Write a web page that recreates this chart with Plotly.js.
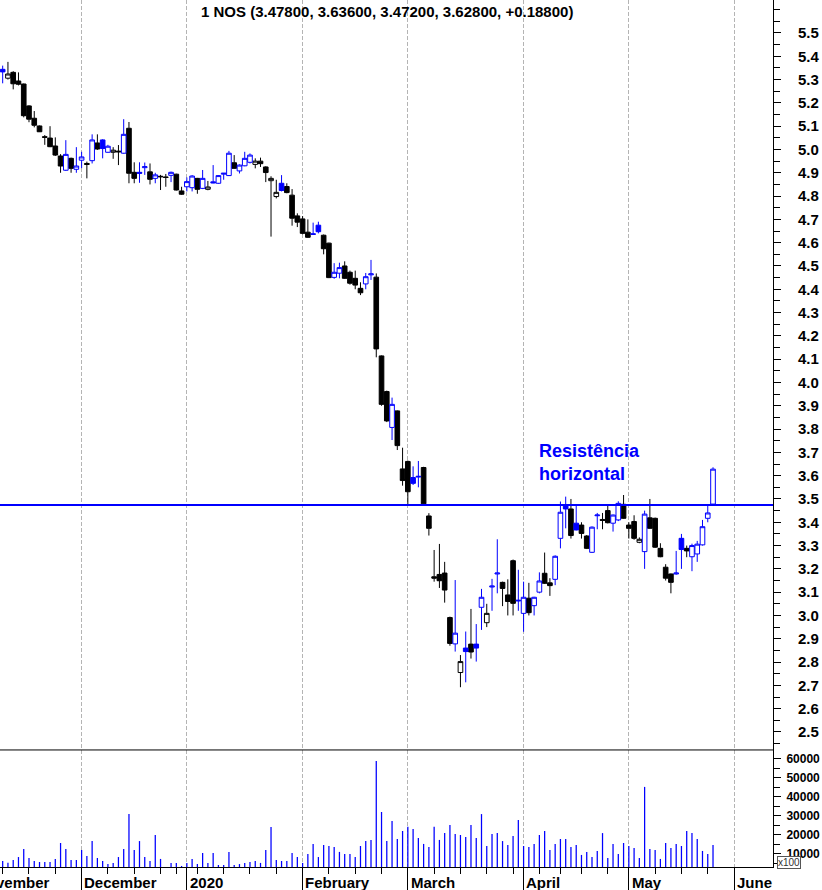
<!DOCTYPE html>
<html>
<head>
<meta charset="utf-8">
<script src="https://cdn.plot.ly/plotly-3.0.1.min.js"></script>
<style>
  html, body { margin: 0; padding: 0; background: #fff; }
  #chart { width: 822px; height: 890px; }
</style>
</head>
<body>
<div id="chart"></div>
<script>
// trading days shown (Euronext Lisbon)
const dates = [
  '2019-11-11','2019-11-12','2019-11-13','2019-11-14','2019-11-15','2019-11-18','2019-11-19','2019-11-20','2019-11-21','2019-11-22',
  '2019-11-25','2019-11-26','2019-11-27','2019-11-28','2019-11-29',
  '2019-12-02','2019-12-03','2019-12-04','2019-12-05','2019-12-06','2019-12-09','2019-12-10','2019-12-11','2019-12-12','2019-12-13',
  '2019-12-16','2019-12-17','2019-12-18','2019-12-19','2019-12-20','2019-12-23','2019-12-24','2019-12-27','2019-12-30','2019-12-31',
  '2020-01-02','2020-01-03','2020-01-06','2020-01-07','2020-01-08','2020-01-09','2020-01-10','2020-01-13','2020-01-14','2020-01-15',
  '2020-01-16','2020-01-17','2020-01-20','2020-01-21','2020-01-22','2020-01-23','2020-01-24','2020-01-27','2020-01-28','2020-01-29',
  '2020-01-30','2020-01-31',
  '2020-02-03','2020-02-04','2020-02-05','2020-02-06','2020-02-07','2020-02-10','2020-02-11','2020-02-12','2020-02-13','2020-02-14',
  '2020-02-17','2020-02-18','2020-02-19','2020-02-20','2020-02-21','2020-02-24','2020-02-25','2020-02-26','2020-02-27','2020-02-28',
  '2020-03-02','2020-03-03','2020-03-04','2020-03-05','2020-03-06','2020-03-09','2020-03-10','2020-03-11','2020-03-12','2020-03-13',
  '2020-03-16','2020-03-17','2020-03-18','2020-03-19','2020-03-20','2020-03-23','2020-03-24','2020-03-25','2020-03-26','2020-03-27',
  '2020-03-30','2020-03-31',
  '2020-04-01','2020-04-02','2020-04-03','2020-04-06','2020-04-07','2020-04-08','2020-04-09','2020-04-14','2020-04-15','2020-04-16',
  '2020-04-17','2020-04-20','2020-04-21','2020-04-22','2020-04-23','2020-04-24','2020-04-27','2020-04-28','2020-04-29','2020-04-30',
  '2020-05-04','2020-05-05','2020-05-06','2020-05-07','2020-05-08','2020-05-11','2020-05-12','2020-05-13','2020-05-14','2020-05-15',
  '2020-05-18','2020-05-19','2020-05-20','2020-05-21','2020-05-22','2020-05-25','2020-05-26'
];

const open = [
  5.344,5.306,5.331,5.294,5.281,5.187,5.134,5.101,5.055,5.049,
  5.015,4.972,4.911,4.962,4.915,4.954,4.940,4.952,5.028,5.041,
  4.988,4.988,4.993,4.984,5.091,4.902,4.902,4.922,4.904,4.876,
  4.885,4.882,4.889,4.894,4.822,4.840,4.836,4.876,4.833,4.829,
  4.861,4.855,4.894,4.888,4.943,4.908,4.930,4.945,4.936,4.950,
  4.925,4.866,4.798,4.855,4.841,4.804,4.715,4.702,4.645,4.638,
  4.675,4.632,4.598,4.451,4.469,4.500,4.473,4.447,4.404,4.423,
  4.462,4.452,4.114,3.961,3.807,3.878,3.629,3.661,3.592,3.594,
  3.635,3.427,3.166,3.176,3.182,2.991,2.878,2.755,2.860,2.877,
  2.877,3.035,2.969,3.122,3.178,3.142,3.088,3.235,3.062,3.009,
  3.074,3.042,3.100,3.181,3.140,3.155,3.331,3.474,3.457,3.396,
  3.388,3.341,3.271,3.428,3.412,3.450,3.396,3.410,3.477,3.388,
  3.403,3.314,3.274,3.419,3.417,3.288,3.207,3.178,3.178,3.331,
  3.288,3.252,3.264,3.303,3.417,3.478
];
const high = [
  5.360,5.376,5.336,5.331,5.283,5.190,5.165,5.103,5.062,5.100,
  5.052,4.980,5.040,4.965,5.010,4.990,4.948,5.065,5.065,5.044,
  5.020,5.010,5.019,5.130,5.118,4.945,4.945,4.944,4.940,4.900,
  4.891,4.895,4.905,4.896,4.840,4.880,4.890,4.878,4.912,4.865,
  4.933,4.890,4.899,4.994,4.976,4.936,4.990,4.983,4.962,4.965,
  4.928,4.885,4.870,4.890,4.855,4.830,4.726,4.714,4.700,4.686,
  4.690,4.635,4.600,4.512,4.514,4.520,4.480,4.480,4.430,4.470,
  4.526,4.468,4.116,3.965,3.935,3.880,3.720,3.665,3.640,3.663,
  3.638,3.439,3.281,3.307,3.230,2.995,3.152,2.830,2.931,3.028,
  2.963,3.114,3.050,3.157,3.327,3.145,3.155,3.240,3.196,3.145,
  3.140,3.080,3.185,3.270,3.160,3.258,3.489,3.510,3.500,3.470,
  3.400,3.345,3.382,3.440,3.440,3.470,3.433,3.490,3.517,3.400,
  3.430,3.335,3.450,3.500,3.420,3.310,3.220,3.180,3.277,3.350,
  3.300,3.308,3.320,3.410,3.470,3.636
];
const low = [
  5.284,5.300,5.258,5.275,5.138,5.117,5.095,5.075,5.020,5.010,
  4.972,4.900,4.908,4.900,4.900,4.920,4.876,4.940,4.998,4.962,
  4.986,4.960,4.933,4.982,4.855,4.855,4.857,4.891,4.850,4.855,
  4.826,4.840,4.860,4.824,4.805,4.820,4.820,4.810,4.830,4.825,
  4.855,4.853,4.870,4.886,4.917,4.897,4.928,4.940,4.919,4.925,
  4.860,4.626,4.790,4.820,4.812,4.673,4.667,4.636,4.621,4.634,
  4.640,4.550,4.448,4.445,4.447,4.445,4.420,4.400,4.375,4.400,
  4.440,4.108,3.900,3.830,3.753,3.710,3.557,3.474,3.560,3.550,
  3.476,3.343,3.145,3.118,3.055,2.870,2.845,2.692,2.713,2.815,
  2.802,2.938,2.950,3.020,3.095,3.040,3.000,3.000,3.020,2.930,
  3.000,3.000,3.095,3.135,3.084,3.130,3.288,3.374,3.330,3.365,
  3.330,3.285,3.268,3.370,3.370,3.395,3.360,3.405,3.415,3.330,
  3.325,3.310,3.200,3.372,3.290,3.250,3.150,3.095,3.175,3.200,
  3.250,3.190,3.230,3.300,3.400,3.472
];
const close = [
  5.333,5.324,5.282,5.280,5.145,5.130,5.104,5.076,5.052,5.012,
  4.976,4.929,4.979,4.919,4.929,4.968,4.936,5.041,5.002,5.004,
  5.014,4.997,4.990,5.065,4.898,4.876,4.898,4.926,4.872,4.891,
  4.883,4.880,4.902,4.826,4.808,4.862,4.886,4.829,4.876,4.839,
  4.857,4.888,4.898,4.984,4.919,4.933,4.962,4.976,4.950,4.939,
  4.901,4.876,4.816,4.824,4.815,4.705,4.688,4.640,4.623,4.636,
  4.647,4.574,4.450,4.473,4.493,4.447,4.426,4.418,4.385,4.454,
  4.466,4.144,3.906,3.835,3.906,3.729,3.579,3.531,3.567,3.597,
  3.479,3.374,3.160,3.149,3.109,2.880,2.924,2.802,2.845,2.843,
  2.860,3.078,3.009,3.126,3.182,3.116,3.060,3.052,3.065,3.078,
  3.012,3.078,3.148,3.138,3.128,3.254,3.443,3.457,3.343,3.367,
  3.352,3.288,3.379,3.431,3.408,3.398,3.431,3.481,3.417,3.374,
  3.331,3.327,3.435,3.374,3.293,3.252,3.160,3.142,3.182,3.283,
  3.277,3.300,3.306,3.381,3.440,3.628
];
const closeBefore = 5.31;   // close of the session before the first one shown

// volume, in hundreds of shares
const volume = [
  6300,5400,6800,8400,12600,7900,6300,5800,5800,5800,
  7400,15800,12600,6800,6800,12100,8900,16800,7900,6300,
  4700,5300,8400,12600,31000,12100,16800,8400,6300,20000,
  7400,2500,5300,5300,3700,5300,7400,4700,10500,5300,
  10500,4200,4200,11100,4200,4700,5300,5800,6300,5300,
  12100,24200,6800,6300,6300,10500,8400,5300,10000,15300,
  8400,14700,14200,13700,11100,10000,10000,8400,14200,16800,
  17400,58900,32100,16800,27400,17900,22100,24400,23200,18400,
  15300,13700,24400,17400,21000,25300,20500,20000,18900,25300,
  18400,31000,14200,20500,21000,16800,14700,19500,27900,14200,
  13700,15300,20000,22100,12100,15300,17900,17900,13700,14700,
  9500,11100,8400,11600,21000,7900,15300,10000,15800,14200,
  13200,7900,45300,12600,12100,7400,15800,13200,15300,14200,
  22100,21000,17900,11600,10000,14700
];

// month axis: session index of each month start and its label
const monthTickIdx = [-5.55, 15, 35, 57, 77, 99, 119, 139];
const monthLabels = ['November', 'December', '2020', 'February', 'March', 'April', 'May', 'June'];
const priceTicks = [2.5, 2.6, 2.7, 2.8, 2.9, 3.0, 3.1, 3.2, 3.3, 3.4, 3.5, 3.6, 3.7, 3.8, 3.9, 4.0,
                    4.1, 4.2, 4.3, 4.4, 4.5, 4.6, 4.7, 4.8, 4.9, 5.0, 5.1, 5.2, 5.3, 5.4, 5.5];
const volumeTicks = [10000, 20000, 30000, 40000, 50000, 60000];

const resistance = 3.474;
const titleText = '1 NOS (3.47800, 3.63600, 3.47200, 3.62800, +0.18800)';

const BLUE = '#0000ff';
const FONT = 'Liberation Sans, Arial, sans-serif';

const idx = dates.map((d, i) => i);
const isUp = close.map((c, i) => c > (i === 0 ? closeBefore : close[i - 1]));

// first session of each week gets a minor tick
const weekStart = idx.filter(i => {
  if (i === 0) return true;
  const a = new Date(dates[i - 1] + 'T00:00:00Z').getUTCDay();
  const b = new Date(dates[i] + 'T00:00:00Z').getUTCDay();
  return b < a;
});

function candles(keep, color) {
  const f = arr => arr.filter((_, i) => keep(i));
  return {
    type: 'candlestick',
    x: f(idx), open: f(open), high: f(high), low: f(low), close: f(close),
    xaxis: 'x', yaxis: 'y',
    whiskerwidth: 0,
    increasing: { line: { color: color, width: 1 }, fillcolor: '#ffffff' },
    decreasing: { line: { color: color, width: 1 }, fillcolor: color },
    showlegend: false, hoverinfo: 'skip'
  };
}

const traces = [
  candles(i => !isUp[i], '#000000'),
  candles(i => isUp[i], BLUE),
  {
    type: 'bar', x: idx, y: volume, xaxis: 'x', yaxis: 'y2',
    width: 0.24, marker: { color: BLUE, line: { width: 0 } },
    showlegend: false, hoverinfo: 'skip'
  }
];

// month labels sit just right of their tick; they are placed in paper units
// so the clipped "November" at the left edge is still drawn
const xMin = -0.51, xMax = 146.4;
const toPaper = v => (v - xMin) / (xMax - xMin);
const annotations = monthLabels.map((m, k) => ({
  text: '<b>' + m + '</b>', x: toPaper(monthTickIdx[k] + 0.15), xref: 'paper',
  y: -0.0175, yref: 'paper', xanchor: 'left', yanchor: 'middle',
  showarrow: false, font: { family: FONT, size: 15, color: '#000' }
}));

annotations.push({
  text: '<b>' + titleText + '</b>', x: 0.5, xref: 'paper', y: 0.9867, yref: 'paper',
  xanchor: 'center', yanchor: 'middle', showarrow: false,
  font: { family: FONT, size: 15, color: '#000' }
});
annotations.push({
  text: '<b>Resistência<br>horizontal</b>', x: 101.6, xref: 'x', y: 3.655, yref: 'y',
  xanchor: 'left', yanchor: 'middle', align: 'left', showarrow: false,
  font: { family: FONT, size: 18, color: BLUE }
});
annotations.push({
  text: 'x100', x: 777 / 773, xref: 'paper', y: 0.0055, yref: 'paper',
  xanchor: 'left', yanchor: 'middle', showarrow: false,
  bgcolor: '#ffffff', bordercolor: '#555555', borderwidth: 1, borderpad: 0,
  font: { family: FONT, size: 10, color: '#333' }
});

const layout = {
  width: 822, height: 890,
  margin: { l: 0, r: 49, t: 0, b: 23 },
  paper_bgcolor: '#fff', plot_bgcolor: '#fff',
  hovermode: false, dragmode: false,
  boxgap: 0.12, boxgroupgap: 0,
  font: { family: FONT, color: '#000' },
  xaxis: {
    range: [xMin, xMax], anchor: 'y2',
    tickmode: 'array', tickvals: monthTickIdx, showticklabels: false,
    ticks: 'outside', ticklen: 22, tickcolor: '#000', tickwidth: 1,
    showgrid: true, gridcolor: '#b4b4b4', griddash: '4px,2px', gridwidth: 1,
    minor: { tickmode: 'array', tickvals: weekStart, ticks: 'outside', ticklen: 6, tickcolor: '#000', showgrid: false },
    showline: true, linecolor: '#000', linewidth: 1,
    zeroline: false, rangeslider: { visible: false }, fixedrange: true
  },
  yaxis: {
    domain: [0.135, 1], side: 'right', anchor: 'x',
    range: [2.4227, 5.6416], tickmode: 'array', tickvals: priceTicks, tickformat: '.1f',
    ticks: 'outside', ticklen: 7, tickcolor: '#000',
    minor: { tickmode: 'linear', tick0: 0, dtick: 0.05, ticks: 'outside', ticklen: 6, tickcolor: '#000', showgrid: false },
    ticklabelstandoff: 14,
    tickfont: { family: FONT, size: 15, color: '#000', weight: 'bold' },
    showgrid: false, zeroline: false, showline: true, linecolor: '#000', linewidth: 1,
    fixedrange: true
  },
  yaxis2: {
    domain: [0, 0.135], side: 'right', anchor: 'x',
    range: [3158, 64737], tickmode: 'array', tickvals: volumeTicks, tickformat: 'd',
    ticks: 'outside', ticklen: 7, tickcolor: '#000',
    minor: { tickvals: [5000, 15000, 25000, 35000, 45000, 55000], tickmode: 'array', ticks: 'outside', ticklen: 6, tickcolor: '#000', showgrid: false },
    ticklabelstandoff: 3,
    tickfont: { family: FONT, size: 12, color: '#000', weight: 'bold' },
    showgrid: false, zeroline: false, showline: true, linecolor: '#000', linewidth: 1,
    fixedrange: true
  },
  shapes: [
    { type: 'line', xref: 'paper', x0: 0, x1: 1, yref: 'y', y0: resistance, y1: resistance,
      line: { color: BLUE, width: 2 } },
    { type: 'line', xref: 'paper', x0: 0, x1: 1, yref: 'y2 domain', y0: 1, y1: 1,
      line: { color: '#000', width: 1 } }
  ],
  annotations: annotations
};

Plotly.newPlot('chart', traces, layout, { displayModeBar: false, staticPlot: true });
</script>
</body>
</html>
